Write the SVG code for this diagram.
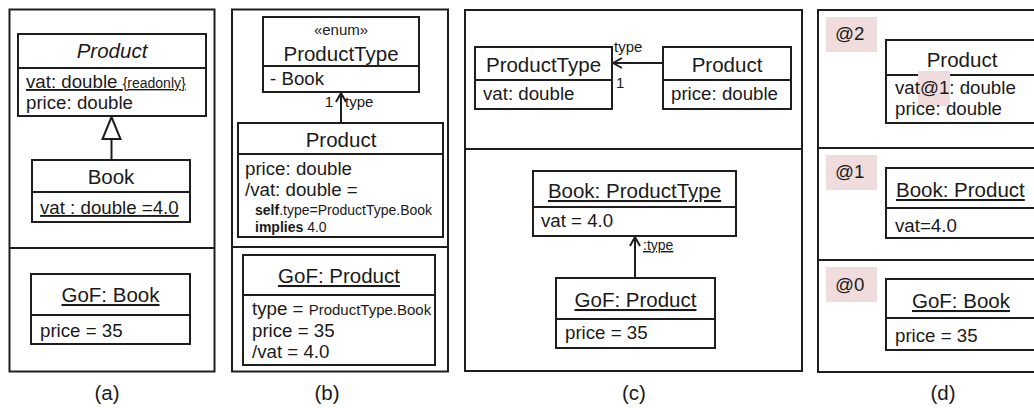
<svg xmlns="http://www.w3.org/2000/svg" width="1034" height="408" viewBox="0 0 1034 408">
  <style>
    text { font-family: "Liberation Sans", Arial, sans-serif; fill: #1a1a1a; }
    .box { fill: #ffffff; stroke: #1e1e1e; stroke-width: 2; }
    .frame { fill: none; stroke: #1e1e1e; stroke-width: 2; }
    .sep { stroke: #1e1e1e; stroke-width: 2; }
    .edge { fill: none; stroke: #1e1e1e; stroke-width: 2; }
    .title { font-size: 20.5px; text-anchor: middle; }
    .tl { text-anchor: start; }
    .attr { font-size: 18.7px; }
    .small { font-size: 14px; }
    .role { font-size: 15px; }
    .cap { font-size: 20.5px; text-anchor: middle; }
    .ul { text-decoration: underline; }
    .tag { fill: #f0dcdc; stroke: none; }
  </style>
  <defs>
    <marker id="open" viewBox="0 0 12 12" refX="11" refY="6" markerWidth="12" markerHeight="12" markerUnits="userSpaceOnUse" orient="auto">
      <path d="M2,1 L11,6 L2,11" fill="none" stroke="#1e1e1e" stroke-width="2"/>
    </marker>
  </defs>

  <rect width="1034" height="408" fill="#ffffff"/>

  <!-- panel frames -->
  <g id="frames">
    <rect class="frame" x="9.5" y="9.5" width="205" height="362"/>
    <line class="sep" x1="9.5" y1="248" x2="214.5" y2="248"/>
    <rect class="frame" x="232" y="9.5" width="216" height="362"/>
    <line class="sep" x1="232" y1="247" x2="448" y2="247"/>
    <rect class="frame" x="465" y="10" width="337" height="361"/>
    <line class="sep" x1="465" y1="149" x2="802" y2="149"/>
    <rect class="frame" x="818" y="10" width="240" height="362"/>
    <line class="sep" x1="818" y1="148" x2="1040" y2="148"/>
    <line class="sep" x1="818" y1="260" x2="1040" y2="260"/>
  </g>

  <!-- connectors -->
  <g id="connectors">
    <!-- generalization Book -> Product -->
    <line class="edge" x1="111.5" y1="160" x2="111.5" y2="139"/>
    <path d="M102.5,139 L120.5,139 L111.5,117 Z" fill="#ffffff" stroke="#1e1e1e" stroke-width="2"/>
    <!-- (b) Product -> ProductType -->
    <line class="edge" x1="341" y1="123" x2="341" y2="93" marker-end="url(#open)"/>
    <text class="role" x="333" y="107" text-anchor="end">1</text>
    <text class="role" x="345" y="107">type</text>
    <!-- (c) Product -> ProductType -->
    <line class="edge" x1="663" y1="63" x2="613" y2="63" marker-end="url(#open)"/>
    <text class="role" x="614" y="52">type</text>
    <text class="role" x="616" y="88">1</text>
    <!-- (c) GoF -> Book link -->
    <line class="edge" x1="635" y1="278" x2="635" y2="237" marker-end="url(#open)"/>
    <text class="small ul" x="643" y="250">:type</text>
  </g>

  <!-- (a) -->
  <g id="a-product">
    <rect class="box" x="18" y="34" width="188" height="82"/>
    <line class="sep" x1="18" y1="68" x2="206" y2="68"/>
    <text class="title" x="112" y="58" font-style="italic">Product</text>
    <text class="attr ul" x="26" y="88">vat: double <tspan font-size="14px">{readonly}</tspan></text>
    <text class="attr" x="26" y="109">price: double</text>
  </g>
  <g id="a-book">
    <rect class="box" x="32" y="160" width="158" height="62"/>
    <line class="sep" x1="32" y1="192" x2="190" y2="192"/>
    <text class="title" x="111" y="184">Book</text>
    <text class="attr ul" x="40" y="214" font-size="19.5px">vat : double =4.0</text>
  </g>
  <g id="a-gof">
    <rect class="box" x="31" y="274" width="159" height="70"/>
    <line class="sep" x1="31" y1="315" x2="190" y2="315"/>
    <text class="title ul" x="110.5" y="302">GoF: Book</text>
    <text class="attr" x="40" y="337">price = 35</text>
  </g>
  <text class="cap" x="107" y="400">(a)</text>

  <!-- (b) -->
  <g id="b-producttype">
    <rect class="box" x="263" y="17" width="156" height="75"/>
    <line class="sep" x1="263" y1="66" x2="419" y2="66"/>
    <text class="role" x="341" y="35" text-anchor="middle">«enum»</text>
    <text class="title" x="341" y="61">ProductType</text>
    <text class="attr" x="270" y="85">- Book</text>
  </g>
  <g id="b-product">
    <rect class="box" x="238" y="123" width="205" height="114"/>
    <line class="sep" x1="238" y1="154" x2="443" y2="154"/>
    <text class="title" x="341" y="147">Product</text>
    <text class="attr" x="245" y="175" font-size="19.5px">price: double</text>
    <text class="attr" x="245" y="196" font-size="19.5px">/vat: double =</text>
    <text class="small" x="255" y="215"><tspan font-weight="bold">self</tspan>.type=ProductType.Book</text>
    <text class="small" x="255" y="232"><tspan font-weight="bold">implies</tspan> 4.0</text>
  </g>
  <g id="b-gof">
    <rect class="box" x="243" y="255" width="192" height="110"/>
    <line class="sep" x1="243" y1="295" x2="435" y2="295"/>
    <text class="title ul" x="339" y="283">GoF: Product</text>
    <text class="attr" x="252" y="315">type = <tspan font-size="15px">ProductType.Book</tspan></text>
    <text class="attr" x="252" y="337">price = 35</text>
    <text class="attr" x="252" y="358">/vat = 4.0</text>
  </g>
  <text class="cap" x="327" y="400">(b)</text>

  <!-- (c) -->
  <g id="c-producttype">
    <rect class="box" x="475" y="47" width="137" height="62"/>
    <line class="sep" x1="475" y1="80" x2="612" y2="80"/>
    <text class="title" x="543.5" y="72">ProductType</text>
    <text class="attr" x="483" y="100">vat: double</text>
  </g>
  <g id="c-product">
    <rect class="box" x="663" y="47" width="128" height="62"/>
    <line class="sep" x1="663" y1="80" x2="791" y2="80"/>
    <text class="title" x="727" y="72">Product</text>
    <text class="attr" x="671" y="100">price: double</text>
  </g>
  <g id="c-book">
    <rect class="box" x="533" y="171" width="203" height="65"/>
    <line class="sep" x1="533" y1="207" x2="736" y2="207"/>
    <text class="title ul" x="634.5" y="198">Book: ProductType</text>
    <text class="attr" x="541" y="227">vat = 4.0</text>
  </g>
  <g id="c-gof">
    <rect class="box" x="556" y="278" width="159" height="70"/>
    <line class="sep" x1="556" y1="319" x2="715" y2="319"/>
    <text class="title ul" x="635.5" y="307">GoF: Product</text>
    <text class="attr" x="565" y="339">price = 35</text>
  </g>
  <text class="cap" x="634" y="400">(c)</text>

  <!-- (d) -->
  <g id="d-level2">
    <rect class="tag" x="826" y="17" width="51" height="35"/>
    <text class="attr" x="835" y="40" font-size="19.5px">@2</text>
  </g>
  <g id="d-product">
    <rect class="box" x="886" y="40" width="160" height="83"/>
    <line class="sep" x1="886" y1="75" x2="1046" y2="75"/>
    <text class="title" x="962" y="67">Product</text>
    <rect class="tag" x="918" y="71" width="32" height="35"/>
    <text class="attr" x="895" y="94">vat@1: double</text>
    <text class="attr" x="895" y="115">price: double</text>
  </g>
  <g id="d-level1">
    <rect class="tag" x="826" y="155" width="51" height="35"/>
    <text class="attr" x="835" y="178" font-size="19.5px">@1</text>
  </g>
  <g id="d-book">
    <rect class="box" x="886" y="168" width="160" height="70"/>
    <line class="sep" x1="886" y1="208" x2="1046" y2="208"/>
    <text class="title tl ul" x="896" y="197">Book: Product</text>
    <text class="attr" x="895" y="232">vat=4.0</text>
  </g>
  <g id="d-level0">
    <rect class="tag" x="826" y="267" width="51" height="35"/>
    <text class="attr" x="835" y="291" font-size="19.5px">@0</text>
  </g>
  <g id="d-gof">
    <rect class="box" x="886" y="279" width="160" height="71"/>
    <line class="sep" x1="886" y1="318" x2="1046" y2="318"/>
    <text class="title tl ul" x="912" y="308">GoF: Book</text>
    <text class="attr" x="895" y="342">price = 35</text>
  </g>
  <text class="cap" x="943" y="400">(d)</text>
</svg>
